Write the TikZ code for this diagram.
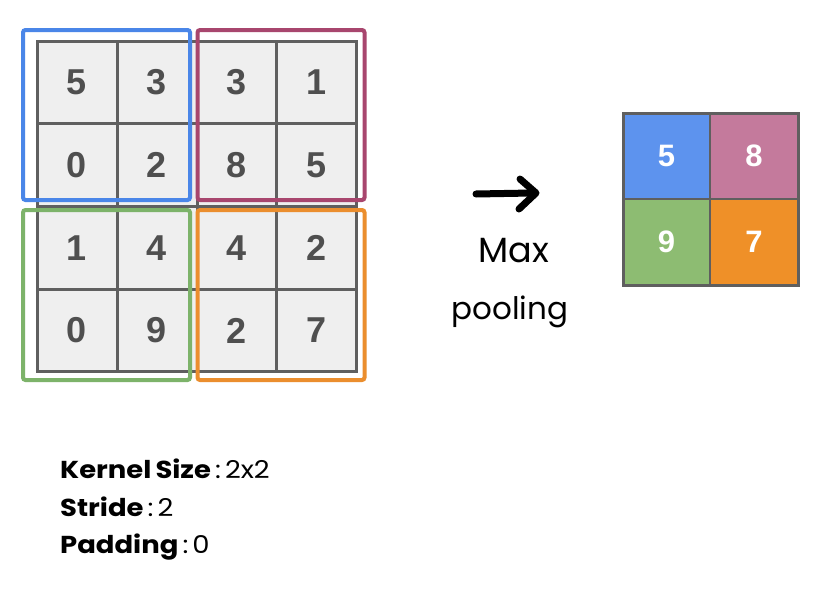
\documentclass[tikz,border=0pt]{standalone}
\usepackage{fontspec}
\setmainfont{Liberation Sans}
\newfontfamily\popfont[FakeStretch=1.12]{Poppins}
\newfontfamily\handfont{Poppins}
\usetikzlibrary{arrows.meta}
\definecolor{cellgray}{HTML}{EFEFEF}
\definecolor{gridgray}{HTML}{5F5F5F}
\definecolor{numgray}{HTML}{4F4F4F}
\definecolor{kblue}{HTML}{4A86E8}
\definecolor{kmag}{HTML}{A8466E}
\definecolor{kgreen}{HTML}{7DB36A}
\definecolor{korange}{HTML}{EB8E2E}
\definecolor{oblue}{HTML}{5D93EE}
\definecolor{opink}{HTML}{C47A9C}
\definecolor{ogreen}{HTML}{8DBC72}
\definecolor{oorange}{HTML}{EF9028}
\tikzset{
  cell/.style={draw=gridgray, line width=3pt, fill=cellgray, minimum width=80pt, minimum height=82.75pt, inner sep=0pt, text=numgray, font=\fontsize{36}{36}\selectfont\bfseries},
  kbox/.style={draw=#1, line width=4pt, rounded corners=2.5pt, minimum width=167pt, minimum height=170pt, inner sep=0pt},
  ocell/.style={fill=#1, minimum width=87.5pt, minimum height=86pt, inner sep=0pt, text=white, font=\fontsize{31}{31}\selectfont\bfseries},
  info/.style={anchor=base west, inner sep=0pt, font=\popfont\fontsize{24.5}{24.5}\selectfont},
  hand/.style={anchor=base, inner sep=0pt, font=\handfont\fontsize{31}{31}\selectfont}
}
\begin{document}
\begin{tikzpicture}[x=1pt,y=-1pt]
\useasboundingbox[fill=white] (0,0) rectangle (836,597);
% input grid
\node[cell] (c11) at (77,82.4) {5};
\node[cell] (c12) at (157,82.4) {3};
\node[cell] (c13) at (237,82.4) {3};
\node[cell] (c14) at (316.5,82.4) {1};
\node[cell] (c21) at (77,165.1) {0};
\node[cell] (c22) at (157,165.1) {2};
\node[cell] (c23) at (237,165.1) {8};
\node[cell] (c24) at (316.5,165.1) {5};
\node[cell] (c31) at (77,247.9) {1};
\node[cell] (c32) at (157,247.9) {4};
\node[cell] (c33) at (237,247.9) {4};
\node[cell] (c34) at (316.5,247.9) {2};
\node[cell] (c41) at (77,330.6) {0};
\node[cell] (c42) at (157,330.6) {9};
\node[cell] (c43) at (237,330.6) {2};
\node[cell] (c44) at (316.5,330.6) {7};
% kernel windows
\node[kbox=kblue] (kb) at (106.5,115) {};
\node[kbox=kmag] (km) at (281,115) {};
\node[kbox=kgreen] (kg) at (106.5,295) {};
\node[kbox=korange] (ko) at (281,295) {};
% arrow and label
\coordinate (as) at (476,194);
\coordinate (ae) at (532,193);
\coordinate (tip) at (536,193);
\coordinate (bu) at (520,179);
\coordinate (bl) at (519,209);
\draw[line width=7pt, line cap=round] (as) -- (ae);
\draw[line width=7pt, line cap=round, line join=round] (bu) -- (tip) -- (bl);
\node[hand, font=\handfont\fontsize{35}{35}\selectfont] (lmax) at (514,262) {Max};
\node[hand] (lpool) at (510,319) {pooling};
% output
\draw[gridgray, line width=3pt, fill=gridgray] (623,113) rectangle (798,285);
\node[ocell=oblue] (o11) at (666.5,156) {5};
\node[ocell=opink] (o12) at (754,156) {8};
\node[ocell=ogreen] (o21) at (666.5,242) {9};
\node[ocell=oorange] (o22) at (754,242) {7};
\draw[gridgray, line width=3pt] (623,113) rectangle (798,285);
\draw[gridgray, line width=2pt] (710,113) -- (710,285) (623,199) -- (798,199);
% info
\node[info] (k1) at (60,478) {\textbf{Kernel\,Size}\,:\,2x2};
\node[info] (k2) at (60,516) {\textbf{Stride}\,:\,2};
\node[info] (k3) at (60,553) {\textbf{Padding}\,:\,0};
\end{tikzpicture}
\end{document}
